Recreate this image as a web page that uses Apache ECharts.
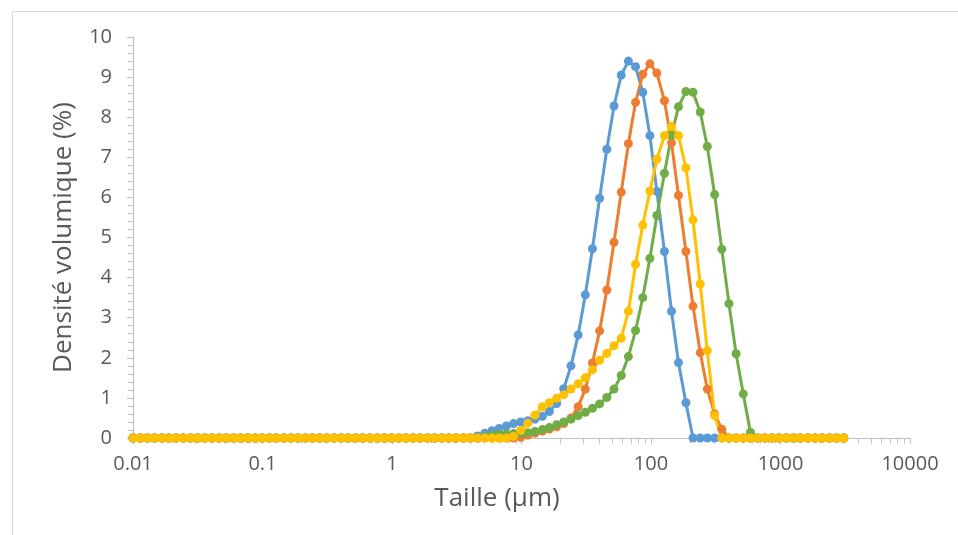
<!DOCTYPE html>
<html>
<head>
<meta charset="utf-8">
<script src="https://cdn.jsdelivr.net/npm/echarts@6/dist/echarts.min.js"></script>
<style>html,body{margin:0;padding:0;background:#fff;}#c{width:958px;height:535px;}</style>
</head>
<body>
<div id="c"></div>
<script>
// Particle size classes (µm)
var sizes = [
  0.01, 0.0114, 0.0129, 0.0147, 0.0167, 0.0189, 0.0215, 0.0244, 0.0278, 0.0315,
  0.0358, 0.0407, 0.0463, 0.0526, 0.0597, 0.0679, 0.0771, 0.0876, 0.0995, 0.113,
  0.128, 0.146, 0.166, 0.188, 0.214, 0.243, 0.276, 0.314, 0.357, 0.405,
  0.460, 0.523, 0.594, 0.675, 0.767, 0.872, 0.991, 1.13, 1.28, 1.45,
  1.65, 1.88, 2.13, 2.42, 2.75, 3.12, 3.55, 4.03, 4.58, 5.21,
  5.92, 6.72, 7.64, 8.68, 9.86, 11.2, 12.7, 14.5, 16.4, 18.7,
  21.2, 24.1, 27.4, 31.1, 35.3, 40.1, 45.6, 51.8, 58.9, 66.9,
  76.0, 86.4, 98.1, 111, 127, 144, 163, 186, 211, 240,
  272, 310, 352, 400, 454, 516, 586, 666, 756, 859,
  976, 1110, 1260, 1430, 1630, 1850, 2100, 2390, 2710, 3080
];

var blueValues = [
  0,0,0,0,0,0,0,0,0,0,
  0,0,0,0,0,0,0,0,0,0,
  0,0,0,0,0,0,0,0,0,0,
  0,0,0,0,0,0,0,0,0,0,
  0,0,0,0,0,0,0,0,0.05,0.12,
  0.18,0.24,0.30,0.36,0.40,0.43,0.47,0.54,0.66,0.86,
  1.23,1.80,2.57,3.57,4.72,5.98,7.20,8.28,9.05,9.40,
  9.26,8.62,7.54,6.15,4.65,3.16,1.88,0.88,0,0,
  0,0,0,0,0,0,0,0,0,0,
  0,0,0,0,0,0,0,0,0,0
];

var orangeValues = [
  0,0,0,0,0,0,0,0,0,0,
  0,0,0,0,0,0,0,0,0,0,
  0,0,0,0,0,0,0,0,0,0,
  0,0,0,0,0,0,0,0,0,0,
  0,0,0,0,0,0,0,0,0,0,
  0,0,0,0,0.02,0.07,0.12,0.17,0.22,0.28,
  0.36,0.50,0.78,1.22,1.87,2.67,3.69,4.88,6.13,7.34,
  8.37,9.07,9.33,9.10,8.41,7.36,6.05,4.65,3.29,2.13,
  1.22,0.60,0.22,0,0,0,0,0,0,0,
  0,0,0,0,0,0,0,0,0,0
];

var greenValues = [
  0,0,0,0,0,0,0,0,0,0,
  0,0,0,0,0,0,0,0,0,0,
  0,0,0,0,0,0,0,0,0,0,
  0,0,0,0,0,0,0,0,0,0,
  0,0,0,0,0,0,0,0,0,0.04,
  0.07,0.09,0.10,0.11,0.12,0.13,0.16,0.21,0.26,0.33,
  0.40,0.47,0.56,0.64,0.74,0.85,1.01,1.22,1.56,2.03,
  2.68,3.50,4.48,5.55,6.60,7.55,8.26,8.64,8.62,8.13,
  7.27,6.07,4.71,3.35,2.10,1.10,0.14,0,0,0,
  0,0,0,0,0,0,0,0,0,0
];

var yellowValues = [
  0,0,0,0,0,0,0,0,0,0,
  0,0,0,0,0,0,0,0,0,0,
  0,0,0,0,0,0,0,0,0,0,
  0,0,0,0,0,0,0,0,0,0,
  0,0,0,0,0,0,0,0,0,0,
  0,0,0,0.04,0.19,0.37,0.57,0.78,0.88,0.99,
  1.08,1.22,1.35,1.50,1.70,1.94,2.11,2.30,2.49,3.16,
  4.33,5.31,6.16,6.95,7.54,7.77,7.54,6.74,5.44,3.84,
  2.18,0.56,0,0,0,0,0,0,0,0,
  0,0,0,0,0,0,0,0,0,0
];

var xTickLabels = ['0.01', '0.1', '1', '10', '100', '1000', '10000'];
var yTickLabels = ['0','1','2','3','4','5','6','7','8','9','10'];
// Minor tick positions of the logarithmic x axis
var xMinorTicks = [
  0.02,0.03,0.04,0.05,0.06,0.07,0.08,0.09,
  0.2,0.3,0.4,0.5,0.6,0.7,0.8,0.9,
  2,3,4,5,6,7,8,9,
  20,30,40,50,60,70,80,90,
  200,300,400,500,600,700,800,900,
  2000,3000,4000,5000,6000,7000,8000,9000
];
var xTitle = 'Taille (µm)';
var yTitle = 'Densité volumique (%)';

var seriesDefs = [
  {name: 'Bleu', values: blueValues, color: '#5B9BD5'},
  {name: 'Orange', values: orangeValues, color: '#ED7D31'},
  {name: 'Vert', values: greenValues, color: '#70AD47'},
  {name: 'Jaune', values: yellowValues, color: '#FFC000'}
];

var FONT = '"Open Sans", "Liberation Sans", sans-serif';
var AXIS_GRAY = '#BFBFBF';
var TEXT_GRAY = '#595959';
var chart = echarts.init(document.getElementById('c'), null, {renderer: 'canvas'});

var lineSeries = seriesDefs.map(function (s) {
  return {
    name: s.name, type: 'line',
    data: sizes.map(function (x, i) { return [x, s.values[i]]; }),
    symbol: 'circle', symbolSize: 9, showSymbol: true,
    lineStyle: {color: s.color, width: 3},
    itemStyle: {color: s.color},
    clip: false, z: 3
  };
});

var minorTickSeries = {
  type: 'custom', silent: true, clip: false, z: 1,
  data: xMinorTicks.map(function (v) { return [v, 0]; }),
  encode: {x: 0, y: 1},
  renderItem: function (params, api) {
    var p = api.coord([api.value(0), 0]);
    var x = Math.round(p[0]) + 0.5;
    var y = Math.round(p[1]) + 0.5;
    return {
      type: 'line',
      shape: {x1: x, y1: y, x2: x, y2: y + 5},
      style: {stroke: AXIS_GRAY, lineWidth: 1}
    };
  }
};

var option = {
  animation: false,
  backgroundColor: '#ffffff',
  graphic: [{
    type: 'rect', left: 10, top: 9, shape: {width: 970, height: 560},
    style: {fill: 'none', stroke: '#D9D9D9', lineWidth: 1}, z: -1
  }, {
    type: 'text', x: 497, y: 499,
    style: {text: xTitle, font: '26px ' + FONT, fill: TEXT_GRAY, textAlign: 'center', textVerticalAlign: 'middle'}
  }],
  grid: {left: 133, right: 48, top: 37, bottom: 97},
  xAxis: {
    type: 'log', logBase: 10, min: 0.01, max: 10000,
    axisLine: {show: true, lineStyle: {color: AXIS_GRAY, width: 1}},
    axisTick: {show: true, length: 6, lineStyle: {color: AXIS_GRAY}},
    minorTick: {show: false},
    splitLine: {show: false},
    axisLabel: {
      fontFamily: FONT, fontSize: 20, color: TEXT_GRAY, margin: 16,
      formatter: function (v) {
        var i = Math.round(Math.log10(v)) + 2;
        return xTickLabels[i] !== undefined ? xTickLabels[i] : '';
      }
    }
  },
  yAxis: {
    type: 'value', min: 0, max: 10, interval: 1,
    name: yTitle, nameLocation: 'middle', nameGap: 56,
    nameTextStyle: {fontFamily: FONT, fontSize: 26, color: TEXT_GRAY},
    axisLine: {show: true, lineStyle: {color: AXIS_GRAY, width: 1}},
    axisTick: {show: true, length: 6, lineStyle: {color: AXIS_GRAY}},
    minorTick: {show: true, splitNumber: 5, length: 5, lineStyle: {color: AXIS_GRAY}},
    splitLine: {show: false},
    axisLabel: {
      fontFamily: FONT, fontSize: 20, color: TEXT_GRAY, margin: 21,
      formatter: function (v) { return yTickLabels[Math.round(v)]; }
    }
  },
  series: [minorTickSeries].concat(lineSeries)
};
chart.setOption(option);
</script>
</body>
</html>
